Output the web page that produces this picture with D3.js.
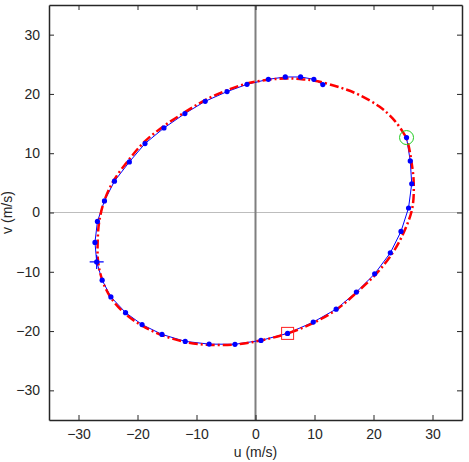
<!DOCTYPE html>
<html>
<head>
<meta charset="utf-8">
<script src="https://cdn.jsdelivr.net/npm/d3@7"></script>
<style>
  body { margin: 0; background: #fff; }
  svg { display: block; font-family: "Liberation Sans", Arial, sans-serif; }
</style>
</head>
<body>
<svg id="chart"></svg>
<script>
// observed wind (blue dots), starting at the green circle, going round
let obsU = [25.60, 26.23, 26.48, 25.94, 24.66, 22.85, 20.20, 17.10, 13.67, 9.79, 5.44, 0.93, -3.48, -7.86, -11.91, -15.85, -19.23, -22.02, -24.51, -25.99, -26.92, -27.21, -26.79, -25.60, -23.91, -21.38, -18.73, -15.51, -11.97, -8.53, -4.82, -1.44, 2.18, 5.05, 7.64, 9.89, 11.41]
let obsV = [12.64, 8.70, 4.85, 0.76, -3.20, -6.81, -10.35, -13.43, -16.30, -18.49, -20.39, -21.57, -22.23, -22.20, -21.74, -20.56, -18.91, -16.89, -14.24, -11.41, -8.33, -5.04, -1.50, 1.96, 5.28, 8.53, 11.63, 14.26, 16.69, 18.76, 20.39, 21.62, 22.47, 22.86, 22.86, 22.47, 21.57]

// fitted ellipse (red dash-dot), closed
let fitU = [25.77, 26.40, 26.82, 26.57, 25.22, 23.27, 20.48, 17.22, 13.72, 9.75, 5.44, 0.88, -3.52, -7.91, -11.97, -15.85, -19.23, -22.11, -24.47, -25.91, -26.67, -26.75, -26.50, -25.65, -24.05, -21.60, -18.90, -15.69, -12.14, -8.59, -4.87, -1.32, 2.06, 4.93, 7.47, 10.29, 14.23, 17.61, 20.99, 23.24, 24.93]
let fitV = [11.97, 8.82, 4.94, 0.72, -3.15, -6.78, -10.32, -13.43, -16.38, -18.65, -20.40, -21.59, -22.26, -22.32, -21.83, -20.68, -19.08, -17.06, -14.44, -11.58, -8.38, -5.01, -1.63, 1.90, 5.36, 8.73, 11.85, 14.47, 16.82, 18.93, 20.61, 21.79, 22.38, 22.59, 22.52, 22.18, 21.12, 19.82, 17.87, 15.89, 13.65]

// marked instants
let circlePt = [25.6, 12.64]
let squarePt = [5.44, -20.39]
let plusPt = [-26.92, -8.33]

let ticks = [-30, -20, -10, 0, 10, 20, 30]
let domain = [-35, 35]

let W = 469, H = 462
let margin = {left: 49, top: 5, right: 7, bottom: 42}

let svg = d3.select('#chart')
    .attr('width', W)
    .attr('height', H)

let x = d3.scaleLinear().domain(domain).range([margin.left, W - margin.right])
let y = d3.scaleLinear().domain(domain).range([H - margin.bottom, margin.top])

let obs = obsU.map((u, i) => [u, obsV[i]])
let fit = fitU.map((u, i) => [u, fitV[i]])

// zero lines
svg.append('line')
    .attr('x1', x.range()[0]).attr('x2', x.range()[1])
    .attr('y1', y(0)).attr('y2', y(0))
    .attr('stroke', '#bdbdbd').attr('stroke-width', 1)
svg.append('line')
    .attr('x1', x(0)).attr('x2', x(0))
    .attr('y1', y.range()[0]).attr('y2', y.range()[1])
    .attr('stroke', '#7f7f7f').attr('stroke-width', 2)

let line = d3.line().x(d => x(d[0])).y(d => y(d[1]))

svg.append('path')
    .attr('d', line(obs))
    .attr('fill', 'none')
    .attr('stroke', '#0000ff')
    .attr('stroke-width', 1)

svg.append('path')
    .attr('d', line.curve(d3.curveCardinalClosed)(fit))
    .attr('fill', 'none')
    .attr('stroke', '#ff0000')
    .attr('stroke-width', 2.5)
    .attr('stroke-dasharray', '9 3 2 3')

svg.append('g').selectAll('circle')
    .data(obs)
    .enter().append('circle')
    .attr('cx', d => x(d[0]))
    .attr('cy', d => y(d[1]))
    .attr('r', 2.6)
    .attr('fill', '#0000ff')

// markers
svg.append('circle')
    .attr('cx', x(circlePt[0])).attr('cy', y(circlePt[1]))
    .attr('r', 7)
    .attr('fill', 'none').attr('stroke', '#22cc22').attr('stroke-width', 1)
svg.append('rect')
    .attr('x', x(squarePt[0]) - 6).attr('y', y(squarePt[1]) - 6)
    .attr('width', 12).attr('height', 12)
    .attr('fill', 'none').attr('stroke', '#ff2020').attr('stroke-width', 1)
svg.append('path')
    .attr('d', `M${x(plusPt[0]) - 7},${y(plusPt[1])}h14M${x(plusPt[0])},${y(plusPt[1]) - 7}v14`)
    .attr('stroke', '#0000ff').attr('stroke-width', 1.2)

// axes, ticks inward on all four sides
let axColor = '#262626'
let axBottom = svg.append('g')
    .attr('transform', `translate(0, ${y.range()[0]})`)
    .call(d3.axisBottom(x).tickValues(ticks).tickSizeInner(-5).tickSizeOuter(0).tickPadding(9))
let axTop = svg.append('g')
    .attr('transform', `translate(0, ${y.range()[1]})`)
    .call(d3.axisTop(x).tickValues(ticks).tickSizeInner(-5).tickSizeOuter(0).tickFormat(''))
let axLeft = svg.append('g')
    .attr('transform', `translate(${x.range()[0]}, 0)`)
    .call(d3.axisLeft(y).tickValues(ticks).tickSizeInner(-5).tickSizeOuter(0).tickPadding(9))
let axRight = svg.append('g')
    .attr('transform', `translate(${x.range()[1]}, 0)`)
    .call(d3.axisRight(y).tickValues(ticks).tickSizeInner(-5).tickSizeOuter(0).tickFormat(''))

svg.selectAll('.domain').attr('stroke', axColor).attr('stroke-width', 1.5)
svg.selectAll('.tick line').attr('stroke', axColor)
svg.selectAll('.tick text')
    .attr('fill', axColor)
    .style('font-size', '14px')
    .style('font-family', '"Liberation Sans", Arial, sans-serif')

svg.append('text')
    .text('u (m/s)')
    .attr('x', x(0)).attr('y', 457)
    .attr('text-anchor', 'middle')
    .attr('fill', axColor)
    .style('font-size', '14px')

svg.append('text')
    .text('v (m/s)')
    .attr('transform', `translate(12, ${y(0)}) rotate(-90)`)
    .attr('text-anchor', 'middle')
    .attr('fill', axColor)
    .style('font-size', '14px')
</script>
</body>
</html>
